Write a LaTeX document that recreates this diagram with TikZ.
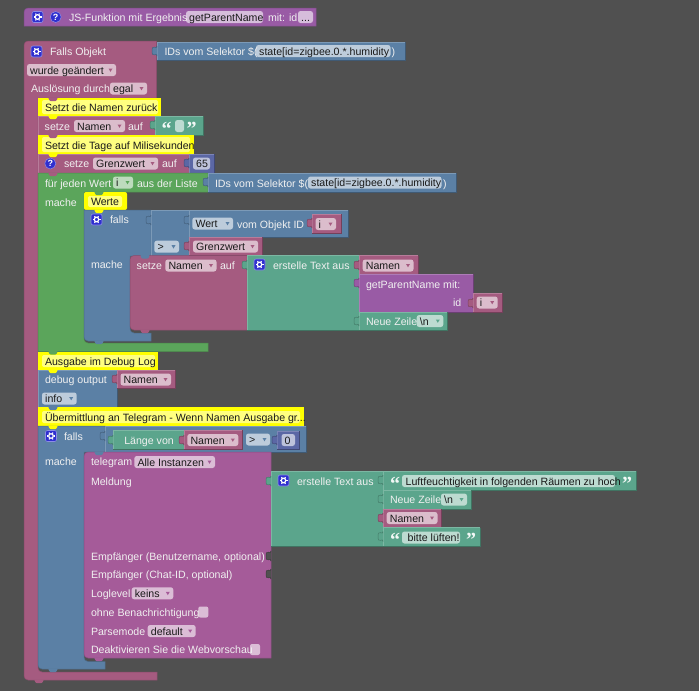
\documentclass[tikz,border=0pt]{standalone}
\usepackage{fontspec}
\setmainfont{Liberation Sans}
\newfontfamily\qfont{Liberation Serif}
\definecolor{bg}{HTML}{505050}
\definecolor{rose}{HTML}{A55B80}
\definecolor{blueb}{HTML}{5B80A5}
\definecolor{loopg}{HTML}{5BA55B}
\definecolor{teal}{HTML}{5BA58C}
\definecolor{numb}{HTML}{5B67A5}
\definecolor{procp}{HTML}{995BA5}
\definecolor{tele}{HTML}{A55B99}
\definecolor{yel}{HTML}{FFFF00}
\definecolor{iconb}{HTML}{2F2FCF}
\newcounter{nn}
\tikzset{
  autoname/.code={\stepcounter{nn}\pgfkeysalso{name=n\arabic{nn}}},
  lbl/.style={autoname,anchor=base west,inner sep=0pt,outer sep=0pt,text=white!94!black,font=\fontsize{10.6}{12}\selectfont},
  dark/.style={lbl,text=black!90},
  qmark/.style={autoname,inner sep=0pt,outer sep=0pt,text=white,font=\fontsize{9}{10}\selectfont\bfseries},
  quote/.style={autoname,anchor=base west,inner sep=0pt,outer sep=0pt,text=white!92!teal,font=\fontsize{20}{20}\qfont\bfseries},
}
% free-form block: colour, path
\newcommand\blk[2]{\fill[#1] #2; \draw[#1!84!black,line width=.5pt] #2;}
% rectangular block: colour, x1 y1 x2 y2, dark right and bottom edges, pale top and left edges
\newcommand\rblk[5]{\fill[#1] (#2,#3) rectangle (#4,#5);
  \draw[#1!80!white,line width=.5pt] (#2,#5) -- (#2,#3) -- (#4,#3);
  \draw[#1!70!black,line width=.6pt] (#4,#3) -- (#4,#5) -- (#2,#5);}
\newcommand\lab[3]{\node[lbl] at (#1,#2) {#3};}
\newcommand\dlab[3]{\node[dark] at (#1,#2) {#3};}
% field: x1 x2 yc text colour
\newcommand\tfld[5]{\fill[#5!40!white,rounded corners=2.5] (#1,#3-6) rectangle (#2,#3+6);
  \node[dark] at (#1+3.2,#3+4) {#4};}
\newcommand\dd[5]{\tfld{#1}{#2}{#3}{#4}{#5}
  \fill[#5] (#2-7.5,#3-1.5) -- (#2-3.5,#3-1.5) -- (#2-5.5,#3+1.8) -- cycle;}
\newcommand\tabp[3]{\begin{scope}[shift={(#1,#2)}]
  \fill[#3] (.3,0) -- (0,0) .. controls (0,4.5) and (-5,-3) .. (-5,5) .. controls (-5,13) and (0,5.5) .. (0,10) -- (.3,10) -- cycle;
  \draw[#3!75!black,line width=.5pt] (0,0) .. controls (0,4.5) and (-5,-3) .. (-5,5) .. controls (-5,13) and (0,5.5) .. (0,10);
  \end{scope}}
\newcommand\notch[3]{\fill[#3,rounded corners=1] (#1+10,#2-.5) -- (#1+12,#2+3.2) -- (#1+18,#2+3.2) -- (#1+20,#2-.5) -- cycle;}
\newcommand\gear[2]{\begin{scope}[shift={(#1,#2)}]
  \fill[iconb,draw=iconb!55!white,line width=.6pt,rounded corners=2] (-5.5,-5.5) rectangle (5.5,5.5);
  \draw[white,line width=1.2pt] (0,0) circle (2.3pt);
  \foreach \a in {0,60,...,300}{\draw[white,line width=1.1pt] (\a:2.6pt) -- (\a:4pt);}
  \end{scope}}
\newcommand\help[2]{\fill[iconb,draw=iconb!55!white,line width=.5pt] (#1,#2) circle (5.5pt);
  \node[qmark] at (#1,#2) {?};}
\begin{document}
\begin{tikzpicture}[x=1pt,y=-1pt]
\useasboundingbox (0,0) rectangle (699,691);
\fill[bg] (0,0) rectangle (699,691);
% top function block
\blk{procp}{(24,26) [rounded corners=4] -- (24,8) [sharp corners] -- (316,8) -- (316,26) -- cycle}
\gear{37.5}{17}
\help{55.7}{17}
\tfld{186}{263}{17}{getParentName}{procp}
\lab{69}{21}{JS-Funktion mit Ergebnis}
\lab{268}{21}{mit: id}
\tfld{298}{313}{17}{...}{procp}
% trigger
\blk{rose}{(24,60) [rounded corners=4] -- (24,41) [sharp corners] -- (156.5,41) -- (156.5,98) -- (38,98) [rounded corners=4] -- (38,672) [sharp corners] -- (157,672) -- (157,680) [rounded corners=4] -- (24,680) [sharp corners] -- cycle}
\notch{24}{680}{rose}
\gear{36.5}{51.5}
\lab{50}{55}{Falls Objekt}
\dd{27}{116}{70}{wurde geändert}{rose}
\dd{110}{147}{88.5}{egal}{rose}
\lab{31}{92}{Auslösung durch}
\rblk{blueb}{157}{42}{405}{60}
\tabp{157}{46}{blueb}
\tfld{256}{390.5}{51}{state[id=zigbee.0.*.humidity}{blueb}
\lab{164.5}{55}{IDs vom Selektor \$(}
\lab{391.5}{55}{)}
% comment 1
\fill[yel] (38,98) rectangle (161,116);
\fill[yel!50!white,rounded corners=2] (42,100) rectangle (158,114);
\notch{38}{98}{rose}
\dlab{45}{111}{Setzt die Namen zurück}
% setze Namen
\rblk{rose}{38}{116}{155}{135}
\notch{38}{116}{yel}
\lab{44.7}{130}{setze}
\dd{74}{125}{126}{Namen}{rose}
\lab{128}{130}{auf}
\rblk{teal}{155}{116}{203}{135}
\tabp{155}{120}{teal}
\node[quote] at (161.5,135) {“};
\fill[teal!40!white,rounded corners=2.5] (175,120) rectangle (184,132);
\node[quote] at (186.5,135) {”};
% comment 2
\fill[yel] (38,135) rectangle (194,154);
\fill[yel!50!white,rounded corners=2] (42,137) rectangle (190,152);
\notch{38}{135}{rose}
\dlab{45}{149}{Setzt die Tage auf Milisekunden}
% setze Grenzwert
\rblk{rose}{38}{154}{189}{173}
\notch{38}{154}{yel}
\help{50.3}{163.5}
\lab{64}{167.5}{setze}
\dd{93}{158}{163.5}{Grenzwert}{rose}
\lab{162}{167.5}{auf}
\rblk{numb}{189}{154}{214}{173}
\tabp{189}{158}{numb}
\tfld{193}{210}{163.5}{65}{numb}
% for loop
\blk{loopg}{(38,173) -- (208,173) -- (208,192) -- (84,192) [rounded corners=4] -- (84,343) [sharp corners] -- (208,343) -- (208,351.5) -- (38,351.5) -- cycle}
\notch{38}{173}{rose}
\dd{113}{133}{182.5}{i}{loopg}
\lab{45}{187}{für jeden Wert}
\lab{137}{187}{aus der Liste}
\rblk{blueb}{208}{173}{456}{192}
\tabp{208}{177}{blueb}
\tfld{308}{441.5}{182.5}{state[id=zigbee.0.*.humidity}{blueb}
\lab{215}{187}{IDs vom Selektor \$(}
\lab{443}{187}{)}
\lab{45}{206}{mache}
% Werte
\fill[yel,rounded corners=2] (84,192) rectangle (127,210);
\fill[yel!50!white,rounded corners=2] (88,196) rectangle (122,207);
\notch{84}{192}{loopg}
\dlab{91}{205.5}{Werte}
% falls
\blk{blueb}{(84,210) -- (151,210) -- (151,256) -- (130,256) [rounded corners=4] -- (130,333) [sharp corners] -- (151,333) -- (151,341) [rounded corners=4] -- (84,341) [sharp corners] -- cycle}
\notch{84}{210}{yel}
\notch{84}{341}{blueb}
\gear{96.5}{219.5}
\lab{110}{223}{falls}
\lab{91}{268}{mache}
% compare
\rblk{blueb}{151}{210}{189}{256}
\tabp{151}{215}{blueb}
\dd{154.3}{179}{246.7}{>}{blueb}
% wert
\rblk{blueb}{189}{210}{348}{237}
\tabp{189}{215}{blueb}
\dd{192.3}{233}{223.5}{Wert}{blueb}
\lab{237}{228}{vom Objekt ID}
\rblk{rose}{312}{214}{341}{233.5}
\tabp{312}{218}{rose}
\dd{315.5}{336}{224}{i}{rose}
\rblk{rose}{189}{237}{262}{255.5}
\tabp{189}{241}{rose}
\dd{193}{258}{246.5}{Grenzwert}{rose}
% setze Namen inner
\blk{rose}{(130,300) [rounded corners=4] -- (130,255.5) [sharp corners] -- (247,255.5) -- (247,330) [rounded corners=4] -- (130,330) [sharp corners] -- cycle}
\notch{130}{255.5}{blueb}
\notch{130}{330}{rose}
\lab{136.7}{269}{setze}
\dd{165.3}{216.5}{265.5}{Namen}{rose}
\lab{220}{269}{auf}
\rblk{teal}{247}{255.5}{359}{330}
\tabp{247}{260}{teal}
\gear{259.5}{264.5}
\lab{273}{269}{erstelle Text aus}
\rblk{rose}{359}{255.5}{418}{274}
\tabp{359}{260}{rose}
\dd{362.7}{413.5}{265.5}{Namen}{rose}
\rblk{procp}{359}{274}{473}{312}
\tabp{359}{278}{procp}
\lab{366}{288}{getParentName mit:}
\lab{453}{306.5}{id}
\rblk{rose}{473}{293}{502}{312}
\tabp{473}{298}{rose}
\dd{476.7}{497.7}{302.5}{i}{rose}
\rblk{teal}{359}{312}{447}{330}
\tabp{359}{316}{teal}
\dd{416.7}{443.3}{321}{\textbackslash n}{teal}
\lab{366}{325.5}{Neue Zeile}
% Ausgabe
\fill[yel] (38,351.5) rectangle (158,370);
\fill[yel!50!white,rounded corners=2] (42,355) rectangle (155,367);
\notch{38}{351.5}{loopg}
\dlab{45}{365}{Ausgabe im Debug Log}
% debug
\rblk{blueb}{38}{370}{117}{407}
\notch{38}{370}{yel}
\lab{45}{383}{debug output}
\rblk{rose}{117}{370}{175}{388.5}
\tabp{117}{374}{rose}
\dd{120.5}{171}{379.5}{Namen}{rose}
\dd{42}{76.7}{398.5}{info}{blueb}
% comment 3
\fill[yel] (38,407) rectangle (304,426);
\fill[yel!50!white,rounded corners=2] (42,411) rectangle (300,423);
\notch{38}{407}{blueb}
\dlab{45}{421}{Übermittlung an Telegram - Wenn Namen Ausgabe gr...}
% falls 2
\blk{blueb}{(38,426) -- (105,426) -- (105,452) -- (84,452) [rounded corners=4] -- (84,661.5) [sharp corners] -- (105,661.5) -- (105,669) [rounded corners=4] -- (38,669) [sharp corners] -- cycle}
\notch{38}{426}{yel}
\notch{38}{669}{blueb}
\gear{51}{436}
\lab{64}{440}{falls}
\lab{45}{465}{mache}
\rblk{blueb}{105}{426}{306}{452}
\tabp{105}{431}{blueb}
\rblk{teal}{113}{430}{184}{449}
\tabp{113}{435}{teal}
\lab{124.3}{444}{Länge von}
\rblk{rose}{184}{430}{242.5}{449}
\tabp{184}{435}{rose}
\dd{187.3}{238.3}{440}{Namen}{rose}
\dd{246}{270}{439.5}{>}{blueb}
\rblk{numb}{277}{431}{299}{449}
\tabp{277}{435}{numb}
\tfld{281.5}{295}{440}{0}{numb}
% telegram
\blk{tele}{(84,600) [rounded corners=4] -- (84,452) [sharp corners] -- (271,452) -- (271,658) [rounded corners=4] -- (84,658) [sharp corners] -- cycle}
\notch{84}{452}{blueb}
\notch{84}{658}{tele}
\dd{134.3}{215}{462}{Alle Instanzen}{tele}
\lab{91}{465.5}{telegram}
\lab{91}{485}{Meldung}
\rblk{teal}{271}{471}{383}{546}
\tabp{271}{476}{teal}
\gear{283.5}{480.5}
\lab{297}{485}{erstelle Text aus}
\rblk{teal}{383}{471}{636}{490}
\tabp{383}{475}{teal}
\node[quote] at (390,490) {“};
\tfld{402}{615}{481}{\hspace{.5pt}Luftfeuchtigkeit in folgenden Räumen zu hoch}{teal}
\node[quote] at (622,490) {”};
\rblk{teal}{383}{490}{471}{509}
\tabp{383}{494}{teal}
\dd{441}{467}{499.5}{\textbackslash n}{teal}
\lab{390}{503}{Neue Zeile}
\rblk{rose}{383}{509}{441}{527.5}
\tabp{383}{513}{rose}
\dd{386.7}{437.5}{518}{Namen}{rose}
\rblk{teal}{383}{527.5}{480}{546}
\tabp{383}{531.5}{teal}
\node[quote] at (390,546.5) {“};
\tfld{402}{460}{537.5}{\hspace{2.5pt}bitte lüften!}{teal}
\node[quote] at (466,546.5) {”};
\lab{91}{560}{Empfänger (Benutzername, optional)}
\tabp{271}{551}{bg}
\lab{91}{578}{Empfänger (Chat-ID, optional)}
\tabp{271}{569}{bg}
\dd{131.7}{173.3}{593.3}{keins}{tele}
\lab{91}{597}{Loglevel}
\fill[tele!40!white,rounded corners=2] (198.3,606.5) rectangle (208.3,617.5);
\lab{91}{616}{ohne Benachrichtigung}
\dd{147.7}{195.7}{631}{default}{tele}
\lab{91}{635}{Parsemode}
\fill[tele!40!white,rounded corners=2] (250,644) rectangle (260,655);
\lab{91}{653}{Deaktivieren Sie die Webvorschau}
\end{tikzpicture}
\end{document}
